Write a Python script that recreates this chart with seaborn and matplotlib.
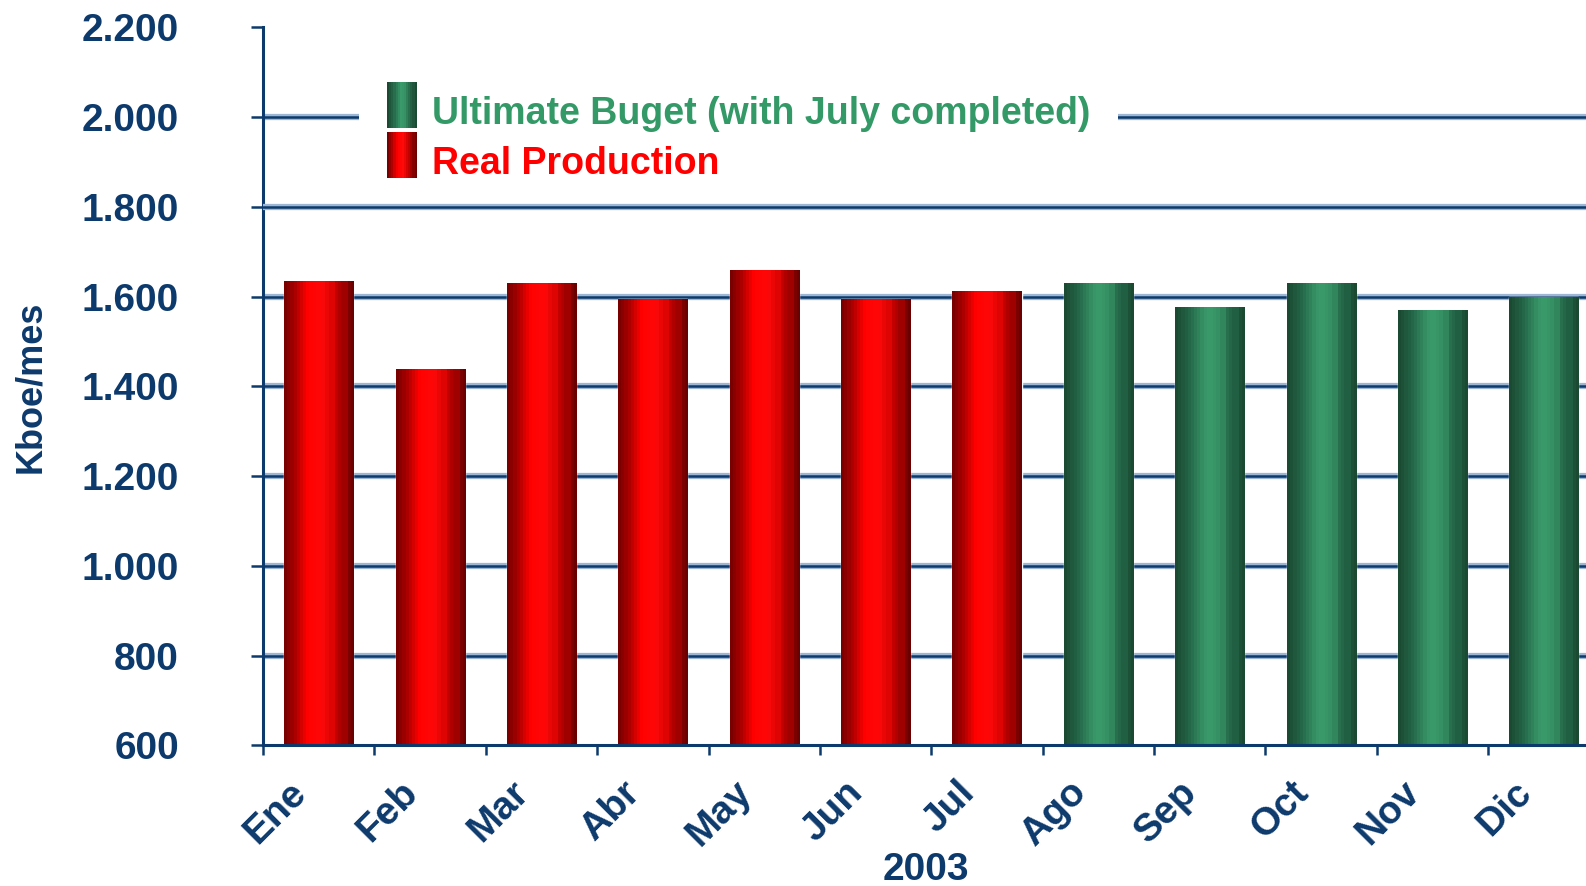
import numpy as np
import pandas as pd
import matplotlib
matplotlib.use("Agg")
import matplotlib.pyplot as plt
import matplotlib.transforms as mtrans
import seaborn as sns
from matplotlib.colors import LinearSegmentedColormap
from matplotlib.patches import Rectangle, Patch
from matplotlib.legend_handler import HandlerBase
import matplotlib.patheffects as pe

# ---- data ----
months = ["Ene", "Feb", "Mar", "Abr", "May", "Jun", "Jul",
          "Ago", "Sep", "Oct", "Nov", "Dic"]
real_production = [1635, 1439, 1630, 1595, 1660, 1595, 1613]
ultimate_budget = [1630, 1577, 1630, 1570, 1600]
series_names = ["Real Production", "Ultimate Buget (with July completed)"]
y_ticks = [600, 800, 1000, 1200, 1400, 1600, 1800, 2000, 2200]
y_tick_labels = ["600", "800", "1.000", "1.200", "1.400", "1.600", "1.800", "2.000", "2.200"]
x_title = "2003"
y_title = "Kboe/mes"

values = real_production + ultimate_budget
serie = [series_names[0]] * len(real_production) + [series_names[1]] * len(ultimate_budget)
df = pd.DataFrame({"month": months, "value": values, "serie": serie})

NAVY = "#0D3A6C"
RED = "#FF0000"
GREEN = "#339966"

sns.set_style("white")
plt.rcParams["font.family"] = ["Liberation Sans", "DejaVu Sans"]
plt.rcParams["font.weight"] = "bold"

red_cmap = LinearSegmentedColormap.from_list(
    "redgrad", [(0.0, "#7A0000"), (0.15, "#B00000"), (0.33, "#FF0000"),
                (0.55, "#FF0A0A"), (0.75, "#C80000"), (1.0, "#6A0000")])
green_cmap = LinearSegmentedColormap.from_list(
    "greengrad", [(0.0, "#1A4A32"), (0.2, "#25684A"), (0.45, "#3A9A6A"),
                  (0.6, "#379566"), (0.8, "#25684A"), (1.0, "#1A4A32")])

fig = plt.figure(figsize=(15.86, 8.86), dpi=100)
ax = fig.add_axes([0.1658, 0.1586, 0.8428, 0.8106])

YMIN, YMAX = y_ticks[0], y_ticks[-1]

# horizontal grid lines (below bars); the 1800 line sits above the legend box
for yv in y_ticks[1:-1]:
    ax.axhline(yv, color=NAVY, linewidth=1.8, zorder=(6 if yv == 1800 else 0.6),
               path_effects=[pe.Stroke(linewidth=4.5, foreground="#9DB6D3"), pe.Normal()])

sns.barplot(data=df, x="month", y="value", hue="serie", order=months,
            hue_order=series_names, palette={series_names[0]: RED, series_names[1]: GREEN},
            dodge=False, width=0.62, ax=ax, legend=False, zorder=3, saturation=1)

ax.set_ylim(YMIN, YMAX)
ax.set_xlim(-0.5, len(months) - 0.5)

# gradient fill on each bar, clipped to the bar patch
nband = 22
for p in list(ax.patches):
    x0, y0 = p.get_x(), p.get_y()
    w, h = p.get_width(), p.get_height()
    if h <= 0:
        continue
    fc = p.get_facecolor()
    cmap = red_cmap if fc[0] > 0.9 else green_cmap
    grad = np.floor(np.linspace(0, 1, nband, endpoint=True) * (nband - 1)) / (nband - 1)
    ybot = max(y0, YMIN)
    im = ax.imshow(grad[np.newaxis, :], extent=[x0, x0 + w, ybot, y0 + h],
                   aspect="auto", cmap=cmap, vmin=0, vmax=1, zorder=3.5,
                   interpolation="nearest", origin="lower")
    im.set_clip_path(p)

ax.set_ylim(YMIN, YMAX)
ax.set_xlim(-0.5, len(months) - 0.5)
ax.set_aspect("auto")
ax.grid(False)

# y axis
ax.set_yticks(y_ticks)
ax.set_yticklabels(y_tick_labels)
ax.tick_params(axis="y", direction="out", length=8.5, width=1.8, color=NAVY,
               labelsize=28, labelcolor=NAVY, pad=52, left=True)
for t in ax.get_yticklabels():
    t.set_fontweight("bold")

# x axis: labels at centres, tick marks at boundaries
ax.set_xticks(range(len(months)))
ax.set_xticklabels(months)
ax.set_xticks(np.arange(-0.5, len(months) - 0.4, 1.0), minor=True)
ax.tick_params(axis="x", which="major", length=0, labelsize=28, labelcolor=NAVY, pad=30)
ax.tick_params(axis="x", which="minor", direction="out", length=7.5, width=1.8,
               color=NAVY, bottom=True)
shift = mtrans.ScaledTranslation(-0.18, 0, fig.dpi_scale_trans)
for t in ax.get_xticklabels():
    t.set_rotation(45)
    t.set_ha("right")
    t.set_va("center")
    t.set_rotation_mode("anchor")
    t.set_fontweight("bold")
    t.set_transform(t.get_transform() + shift)

for s in ["top", "right"]:
    ax.spines[s].set_visible(False)
for s in ["left", "bottom"]:
    ax.spines[s].set_color(NAVY)
    ax.spines[s].set_linewidth(2.2)
    ax.spines[s].set_zorder(4)

# labels
ax.set_xlabel(x_title, fontsize=28, color=NAVY, fontweight="bold", va="center")
ax.xaxis.set_label_coords(0.4957, -0.1734)
ax.set_ylabel(y_title, fontsize=26, color=NAVY, fontweight="bold", va="center")
ax.yaxis.set_label_coords(-0.1741, 0.5)


# legend with gradient handles
class GradHandler(HandlerBase):
    def __init__(self, cmap, n=14, dy=4.7):
        super().__init__()
        self.cmap = cmap
        self.n = n
        self.dy = dy

    def create_artists(self, legend, orig_handle, xdescent, ydescent,
                       width, height, fontsize, trans):
        arts = []
        for i in range(self.n):
            c = self.cmap(i / (self.n - 1))
            r = Rectangle((-xdescent + width * i / self.n, -ydescent + self.dy),
                          width / self.n * 1.05, height, facecolor=c,
                          edgecolor="none", transform=trans)
            arts.append(r)
        return arts


h_green = Patch(facecolor=GREEN)
h_red = Patch(facecolor=RED)
leg = ax.legend([h_green, h_red], [series_names[1], series_names[0]],
                handler_map={h_green: GradHandler(green_cmap), h_red: GradHandler(red_cmap)},
                loc="upper left", bbox_to_anchor=(0.0718, 0.9545), borderaxespad=0,
                prop={"size": 27, "weight": "bold"}, frameon=True, fancybox=False,
                borderpad=0.75, handlelength=0.79, handleheight=1.53,
                handletextpad=0.4, labelspacing=0.1)
leg.get_frame().set_facecolor("white")
leg.get_frame().set_edgecolor("none")
leg.get_frame().set_alpha(1)
leg.get_texts()[0].set_color(GREEN)
leg.get_texts()[1].set_color(RED)
leg.set_zorder(5)

fig.savefig("out.png", dpi=100)
